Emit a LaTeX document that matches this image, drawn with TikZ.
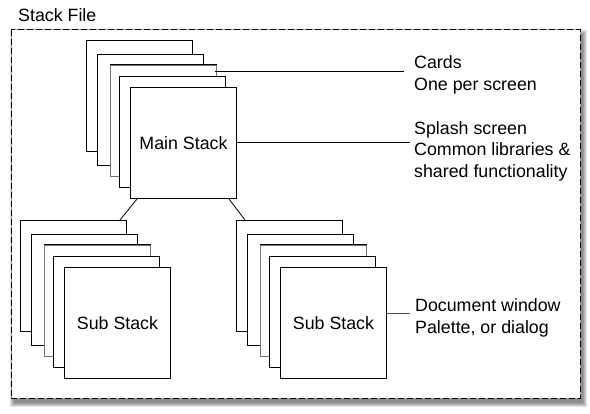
\documentclass[tikz,border=0pt]{standalone}
\usepackage{fontspec}
\setmainfont{Liberation Sans}
\usetikzlibrary{calc}
\newcommand\mystack[4]{%
  \node[card] (#1a) at (#2,#3) {};
  \node[card] (#1b) at ($(#2,#3)+(11,14)$) {};
  \node[graycard] (#1c) at ($(#2,#3)+(24,25)$) {};
  \draw[line width=1pt] (#1c.north west) -- (#1c.north east);
  \node[card] (#1d) at ($(#2,#3)+(33,36)$) {};
  \node[card] (#1e) at ($(#2,#3)+(44,47)$) {#4};
}
\begin{document}
\begin{tikzpicture}[x=1pt,y=-1pt,
  txt/.style={font=\fontsize{17.8}{21.5}\selectfont},
  card/.style={draw=black, fill=white, line width=1pt, minimum width=106pt,
    minimum height=111pt, inner sep=0pt, anchor=north west, txt},
  graycard/.style={card, draw=black!55},
  lbl/.style={anchor=west, align=left, inner sep=0pt, txt},
  conn/.style={line width=1pt, draw=black}]
\useasboundingbox (0,0) rectangle (590,414);
% frame with shadow
\foreach \d in {0,1,2,3,4}{\fill[black,opacity=0.11] (14-\d,34-\d) rectangle (583+\d,403+\d);}
\fill[white] (11,30) rectangle (580,399);
\draw[black!40, line width=1pt] (11,30) rectangle (580,399);
\draw[black, line width=1pt, dash pattern=on 6pt off 3pt] (11,30) rectangle (580,399);
\node[lbl] (title) at (18,15) {Stack File};
% stacks
\mystack{m}{86}{40}{Main Stack}
\mystack{l}{20}{220}{Sub Stack}
\mystack{r}{236}{220}{Sub Stack}
% labels
\node[lbl] (cards) at (414,75) {Cards\\One per screen};
\node[lbl] (splash) at (414,151) {Splash screen\\Common libraries \&\\shared functionality};
\node[lbl] (doc) at (415,318) {Document window\\Palette, or dialog};
% connectors
\coordinate (c0) at ($(mc.north east)+(-2,7)$);
\coordinate (c1) at ($(cards.west)+(-10,-3)$);
\draw[conn] (c0) -- (c1);
\coordinate (s1) at ($(splash.west |- me.east)+(-4,0)$);
\draw[conn] (me.east) -- (s1);
\coordinate (d0) at ($(re.east)+(0,-9.5)$);
\coordinate (d1) at ($(doc.west |- d0)+(-5,0)$);
\draw[line width=1pt, draw=black!70] (d0) -- (d1);
\draw[line width=0.8pt] ($(me.south west)+(7,0)$) -- ($(la.north east)+(-7,0)$);
\draw[line width=0.8pt] ($(me.south east)+(-8,0)$) -- ($(ra.north west)+(9,0)$);
\end{tikzpicture}
\end{document}
